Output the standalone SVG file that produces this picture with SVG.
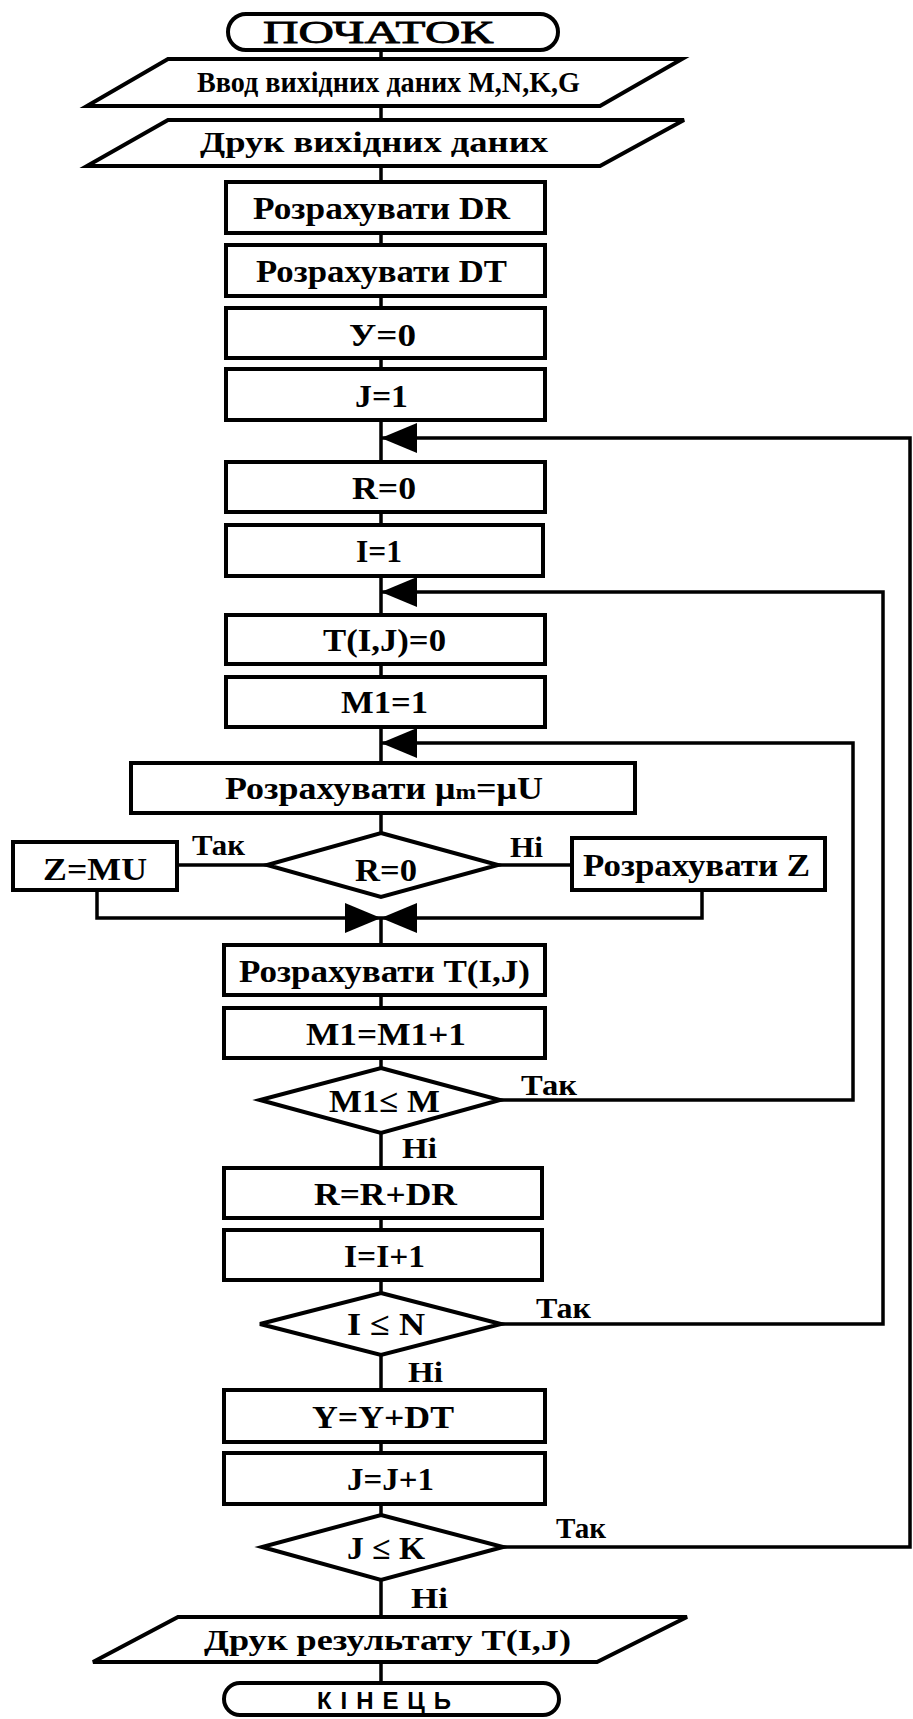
<svg xmlns="http://www.w3.org/2000/svg" width="913" height="1719" viewBox="0 0 913 1719">
<style>
.shape{fill:#fff;stroke:#000;stroke-width:4;stroke-linejoin:miter}
.ln{fill:none;stroke:#000;stroke-width:3.5}
text{font-family:"Liberation Serif","Times New Roman",serif;font-size:32px;font-weight:bold;fill:#000}
.lbl{font-size:29px}
.io{font-size:29px}
.term{font-size:31px;font-weight:normal;stroke:#000;stroke-width:0.8}
.end{font-family:"Liberation Sans",Arial,sans-serif;font-weight:bold;font-size:24px}
</style>
<defs>
<marker id="arr" markerUnits="userSpaceOnUse" markerWidth="36" markerHeight="30" viewBox="0 0 36 30" refX="36" refY="15" orient="auto">
<path d="M0,0 L36,15 L0,30 Z" fill="#000"/>
</marker>
</defs>
<g id="connectors">
<path class="ln" d="M381,50V60 M381,106V120 M381,165V182 M381,233V245 M381,296V308 M381,358V369 M381,420V462 M381,512V525 M381,576V615 M381,664V677 M381,727V765 M381,813V833 M381,918V945 M381,995V1008 M381,1058V1068 M381,1133V1168 M381,1218V1230 M381,1280V1293 M381,1355V1390 M381,1442V1453 M381,1504V1515 M381,1580V1617 M381,1662V1683"/>
<path class="ln" d="M267,865H177 M498,865H572"/>
<path class="ln" d="M97,890V918H381" marker-end="url(#arr)"/>
<path class="ln" d="M702,890V918H381" marker-end="url(#arr)"/>
<path class="ln" d="M499,1100H853V743H381" marker-end="url(#arr)"/>
<path class="ln" d="M501,1324H883V592H381" marker-end="url(#arr)"/>
<path class="ln" d="M503,1547H910V438H381" marker-end="url(#arr)"/>
</g>
<g id="start"><rect class="shape" x="228" y="14" width="330" height="36" rx="18"/><text class="term" x="263" y="43" textLength="230" lengthAdjust="spacingAndGlyphs">ПОЧАТОК</text></g>
<g id="input"><polygon class="shape" points="168,59 682,59 600,106 87,106"/><text class="io" x="197" y="92" textLength="383" lengthAdjust="spacingAndGlyphs">Ввод вихідних даних M,N,K,G</text></g>
<g id="print-input"><polygon class="shape" points="168,120 684,120 600,166 87,166"/><text class="io" x="200" y="152" textLength="348" lengthAdjust="spacingAndGlyphs">Друк вихідних даних</text></g>
<g id="calc-dr"><rect class="shape" x="226" y="182" width="319" height="51"/><text x="253" y="219" textLength="257" lengthAdjust="spacingAndGlyphs">Розрахувати DR</text></g>
<g id="calc-dt"><rect class="shape" x="226" y="245" width="319" height="51"/><text x="256" y="282" textLength="251" lengthAdjust="spacingAndGlyphs">Розрахувати DT</text></g>
<g id="y0"><rect class="shape" x="226" y="308" width="319" height="50"/><text x="349" y="346" textLength="67" lengthAdjust="spacingAndGlyphs">У=0</text></g>
<g id="j1"><rect class="shape" x="226" y="369" width="319" height="51"/><text x="355" y="407" textLength="53" lengthAdjust="spacingAndGlyphs">J=1</text></g>
<g id="r0"><rect class="shape" x="226" y="462" width="319" height="50"/><text x="352" y="499" textLength="64" lengthAdjust="spacingAndGlyphs">R=0</text></g>
<g id="i1"><rect class="shape" x="226" y="525" width="317" height="51"/><text x="356" y="562" textLength="46" lengthAdjust="spacingAndGlyphs">I=1</text></g>
<g id="t0"><rect class="shape" x="226" y="615" width="319" height="49"/><text x="323" y="651" textLength="123" lengthAdjust="spacingAndGlyphs">T(I,J)=0</text></g>
<g id="m1"><rect class="shape" x="226" y="677" width="319" height="50"/><text x="341" y="713" textLength="87" lengthAdjust="spacingAndGlyphs">M1=1</text></g>
<g id="calc-mu"><rect class="shape" x="131" y="763" width="504" height="50"/><text x="225" y="799" textLength="318" lengthAdjust="spacingAndGlyphs">Розрахувати μ<tspan font-size="22">m</tspan>=μU</text></g>
<g id="dec-r0"><polygon class="shape" points="381,833 498,865 381,897 267,865"/><text x="355" y="881" textLength="62" lengthAdjust="spacingAndGlyphs">R=0</text></g>
<g id="z-mu"><rect class="shape" x="13" y="842" width="164" height="48"/><text x="43" y="880" textLength="104" lengthAdjust="spacingAndGlyphs">Z=MU</text></g>
<g id="calc-z"><rect class="shape" x="572" y="838" width="253" height="52"/><text x="583" y="876" textLength="227" lengthAdjust="spacingAndGlyphs">Розрахувати Z</text></g>
<g id="calc-t"><rect class="shape" x="224" y="945" width="321" height="50"/><text x="239" y="982" textLength="291" lengthAdjust="spacingAndGlyphs">Розрахувати T(I,J)</text></g>
<g id="m1-inc"><rect class="shape" x="224" y="1008" width="321" height="50"/><text x="306" y="1045" textLength="160" lengthAdjust="spacingAndGlyphs">M1=M1+1</text></g>
<g id="dec-m1"><polygon class="shape" points="381,1068 500,1100 381,1133 260,1100"/><text x="329" y="1112" textLength="111" lengthAdjust="spacingAndGlyphs">M1≤ M</text></g>
<g id="r-inc"><rect class="shape" x="224" y="1168" width="318" height="50"/><text x="314" y="1205" textLength="143" lengthAdjust="spacingAndGlyphs">R=R+DR</text></g>
<g id="i-inc"><rect class="shape" x="224" y="1230" width="318" height="50"/><text x="344" y="1267" textLength="81" lengthAdjust="spacingAndGlyphs">I=I+1</text></g>
<g id="dec-i"><polygon class="shape" points="381,1293 501,1324 381,1355 260,1324"/><text x="347" y="1335" textLength="78" lengthAdjust="spacingAndGlyphs">I ≤ N</text></g>
<g id="y-inc"><rect class="shape" x="224" y="1390" width="321" height="52"/><text x="312" y="1428" textLength="142" lengthAdjust="spacingAndGlyphs">Y=Y+DT</text></g>
<g id="j-inc"><rect class="shape" x="224" y="1453" width="321" height="51"/><text x="347" y="1490" textLength="87" lengthAdjust="spacingAndGlyphs">J=J+1</text></g>
<g id="dec-j"><polygon class="shape" points="381,1515 503,1547 381,1580 262,1547"/><text x="347" y="1559" textLength="78" lengthAdjust="spacingAndGlyphs">J ≤ K</text></g>
<g id="print-result"><polygon class="shape" points="178,1617 687,1617 597,1662 93,1662"/><text class="io" x="204" y="1650" textLength="367" lengthAdjust="spacingAndGlyphs">Друк результату T(I,J)</text></g>
<g id="end"><rect class="shape" x="224" y="1683" width="335" height="32" rx="16"/><text class="end" x="317" y="1709" textLength="134">КІНЕЦЬ</text></g>
<g id="labels">
<text class="lbl" x="192" y="855" textLength="53" lengthAdjust="spacingAndGlyphs">Так</text>
<text class="lbl" x="510" y="857" textLength="33" lengthAdjust="spacingAndGlyphs">Ні</text>
<text class="lbl" x="521" y="1095" textLength="56" lengthAdjust="spacingAndGlyphs">Так</text>
<text class="lbl" x="402" y="1158" textLength="35" lengthAdjust="spacingAndGlyphs">Ні</text>
<text class="lbl" x="536" y="1318" textLength="55" lengthAdjust="spacingAndGlyphs">Так</text>
<text class="lbl" x="408" y="1382" textLength="35" lengthAdjust="spacingAndGlyphs">Ні</text>
<text class="lbl" x="556" y="1538" textLength="50" lengthAdjust="spacingAndGlyphs">Так</text>
<text class="lbl" x="411" y="1608" textLength="37" lengthAdjust="spacingAndGlyphs">Ні</text>
</g>
</svg>
